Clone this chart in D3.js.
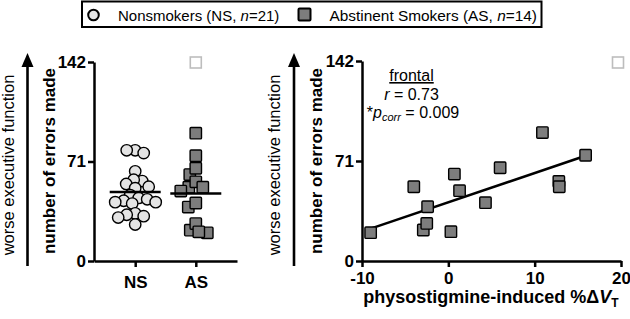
<!DOCTYPE html>
<html>
<head>
<meta charset="utf-8">
<script src="https://cdn.jsdelivr.net/npm/d3@7"></script>
<style>
  body { margin: 0; background: #fff; }
  svg { font-family: "Liberation Sans", Arial, sans-serif; }
  .axis path, .axis line { stroke: #000; stroke-width: 2.5; }
  .axis text { font-size: 17px; font-weight: bold; fill: #000; font-family: "Liberation Sans", Arial, sans-serif; }
</style>
</head>
<body>
<div id="chart"></div>
<script>
/* DATA */
// number of errors made
const groups = ["NS", "AS"];
const nsErrors = [79, 77, 79, 64, 57, 58, 55, 53, 52, 47, 45, 44, 43, 42, 42, 41, 34, 33, 32, 31, 26];
// abstinent smokers: physostigmine-induced %dVT and errors
const asChange = [-9.0, -4.0, -2.4, -2.9, -2.5, 0.3, 0.7, 1.3, 4.3, 6.0, 10.9, 12.8, 12.85, 15.9];
const asErrors = [20.1, 52.7, 38.5, 22.0, 26.7, 20.8, 61.7, 49.9, 41.4, 66.2, 91.2, 56.5, 52.7, 75.1];
const yTicks = [0, 71, 142];
const xTicks = [-10, 0, 10, 20];

const width = 630, height = 319;
const circleFill = "#e4e4e4", squareFill = "#7d7d7d";

const svg = d3.select("#chart").append("svg")
  .attr("width", width)
  .attr("height", height);

/* LEGEND */
const legend = svg.append("g");
legend.append("rect")
  .attr("x", 82).attr("y", 1.5).attr("width", 459.5).attr("height", 25.5)
  .attr("fill", "none").attr("stroke", "#000").attr("stroke-width", 2);
legend.append("circle")
  .attr("cx", 93.5).attr("cy", 15).attr("r", 5.3)
  .attr("fill", circleFill).attr("stroke", "#000").attr("stroke-width", 2);
legend.append("rect")
  .attr("x", 298.5).attr("y", 8.5).attr("width", 12).attr("height", 12).attr("rx", 1)
  .attr("fill", squareFill).attr("stroke", "#000").attr("stroke-width", 2);
const lt1 = legend.append("text").attr("x", 118).attr("y", 20.5).style("font-size", "15px");
lt1.append("tspan").text("Nonsmokers (NS, ");
lt1.append("tspan").attr("font-style", "italic").text("n");
lt1.append("tspan").text("=21)");
const lt2 = legend.append("text").attr("x", 329.5).attr("y", 20.5).style("font-size", "15.4px");
lt2.append("tspan").text("Abstinent Smokers (AS, ");
lt2.append("tspan").attr("font-style", "italic").text("n");
lt2.append("tspan").text("=14)");

// arrow + two-line y label, used on both panels
function yLabels(arrowX, textX, boldX) {
  svg.append("line")
    .attr("x1", arrowX).attr("x2", arrowX)
    .attr("y1", 266).attr("y2", 64)
    .attr("stroke", "#000").attr("stroke-width", 2.6);
  svg.append("path")
    .attr("d", `M${arrowX - 6},67 L${arrowX},53 L${arrowX + 6},67 Z`)
    .attr("fill", "#000");
  svg.append("text")
    .attr("transform", `translate(${textX},165) rotate(-90)`)
    .attr("text-anchor", "middle")
    .style("font-size", "16.5px")
    .text("worse executive function");
  svg.append("text")
    .attr("transform", `translate(${boldX},161) rotate(-90)`)
    .attr("text-anchor", "middle")
    .style("font-size", "17px").style("font-weight", "bold")
    .text("number of errors made");
}

// grey empty box near the top of each panel
function cornerBox(x) {
  svg.append("rect")
    .attr("x", x - 5.5).attr("y", 57).attr("width", 11).attr("height", 11)
    .attr("fill", "none").attr("stroke", "#bdbdbd").attr("stroke-width", 1.6);
}

// simple beeswarm: place sorted points at the smallest x offset that doesn't collide
function swarm(values, yScale, minDist) {
  const order = values.map((v, i) => i).sort((a, b) => values[b] - values[a]);
  const placed = [];
  const out = new Array(values.length);
  order.forEach(i => {
    const y = yScale(values[i]);
    let off = 0;
    for (let k = 0; k < 200; k++) {
      const cand = k === 0 ? 0 : (k % 2 ? -1 : 1) * Math.ceil(k / 2) * 0.5;
      if (placed.every(p => (p.x - cand) ** 2 + (p.y - y) ** 2 >= minDist * minDist)) { off = cand; break; }
    }
    placed.push({ x: off, y: y });
    out[i] = off;
  });
  return out;
}

/* LEFT PANEL: dot plot */
const yL = d3.scaleLinear().domain([0, 142]).range([261, 62]);
const xL = d3.scalePoint().domain(groups).range([94, 237]).padding(0.68);

yLabels(27.5, 14, 55);
cornerBox(xL("AS"));

svg.append("g").attr("class", "axis")
  .attr("transform", "translate(94,0)")
  .call(d3.axisLeft(yL).tickValues(yTicks).tickSize(6).tickSizeOuter(0).tickPadding(2));
svg.append("g").attr("class", "axis")
  .attr("transform", "translate(0,261)")
  .call(d3.axisBottom(xL).tickSize(6).tickSizeOuter(0).tickPadding(9));

const nsOff = swarm(nsErrors, yL, 8.5);
const asOff = swarm(asErrors, yL, 8.5);

svg.append("g").selectAll("circle")
  .data(nsErrors)
  .join("circle")
  .attr("cx", (d, i) => xL("NS") + nsOff[i])
  .attr("cy", d => yL(d))
  .attr("r", 5.7)
  .attr("fill", circleFill).attr("stroke", "#000").attr("stroke-width", 1.4);

svg.append("g").selectAll("rect")
  .data(asErrors)
  .join("rect")
  .attr("x", (d, i) => xL("AS") + asOff[i] - 5.7)
  .attr("y", d => yL(d) - 5.7)
  .attr("width", 11.4).attr("height", 11.4).attr("rx", 1)
  .attr("fill", squareFill).attr("stroke", "#000").attr("stroke-width", 1.4);

// group means
[["NS", nsErrors], ["AS", asErrors]].forEach(([g, vals]) => {
  const m = d3.mean(vals);
  svg.append("line")
    .attr("x1", xL(g) - 25.5).attr("x2", xL(g) + 25.5)
    .attr("y1", yL(m)).attr("y2", yL(m))
    .attr("stroke", "#000").attr("stroke-width", 2.5);
});

/* RIGHT PANEL: correlation */
const xR = d3.scaleLinear().domain([-10, 20]).range([362, 621]);
const yR = d3.scaleLinear().domain([0, 142]).range([261, 61]);

yLabels(294, 280, 322);
cornerBox(618);

svg.append("g").attr("class", "axis")
  .attr("transform", "translate(362,0)")
  .call(d3.axisLeft(yR).tickValues(yTicks).tickSize(6).tickSizeOuter(0).tickPadding(2));
svg.append("g").attr("class", "axis")
  .attr("transform", "translate(0,261)")
  .call(d3.axisBottom(xR).tickValues(xTicks).tickFormat(d => String(d))
    .tickSize(6).tickSizeOuter(0).tickPadding(5));

// least-squares fit over the AS points
const mx = d3.mean(asChange), my = d3.mean(asErrors);
const slope = d3.sum(asChange, (x, i) => (x - mx) * (asErrors[i] - my)) /
              d3.sum(asChange, x => (x - mx) ** 2);
const x0 = d3.min(asChange), x1 = d3.max(asChange);
svg.append("line")
  .attr("x1", xR(x0)).attr("y1", yR(my + slope * (x0 - mx)))
  .attr("x2", xR(x1)).attr("y2", yR(my + slope * (x1 - mx)))
  .attr("stroke", "#000").attr("stroke-width", 2.5);

svg.append("g").selectAll("rect")
  .data(asChange)
  .join("rect")
  .attr("x", d => xR(d) - 5.7)
  .attr("y", (d, i) => yR(asErrors[i]) - 5.7)
  .attr("width", 11.4).attr("height", 11.4).attr("rx", 1)
  .attr("fill", squareFill).attr("stroke", "#000").attr("stroke-width", 1.4);

// stats annotation
const ann = svg.append("g").attr("text-anchor", "middle").style("font-size", "16px");
ann.append("text").attr("x", 411.5).attr("y", 81).text("frontal")
  .attr("text-decoration", "underline");
const rt = ann.append("text").attr("x", 411.5).attr("y", 100);
rt.append("tspan").attr("font-style", "italic").text("r");
rt.append("tspan").text(" = 0.73");
const pt = ann.append("text").attr("x", 413).attr("y", 117.5);
pt.append("tspan").text("*");
pt.append("tspan").attr("font-style", "italic").text("p");
pt.append("tspan").attr("font-style", "italic").attr("dy", 3).style("font-size", "11px").text("corr");
pt.append("tspan").attr("dy", -3).text(" = 0.009");

// x title
const xt = svg.append("text")
  .attr("x", 491).attr("y", 303)
  .attr("text-anchor", "middle")
  .style("font-size", "18px").style("font-weight", "bold");
xt.append("tspan").text("physostigmine-induced %\u0394");
xt.append("tspan").attr("font-style", "italic").text("V");
xt.append("tspan").attr("dy", 4).style("font-size", "12px").text("T");
</script>
</body>
</html>
